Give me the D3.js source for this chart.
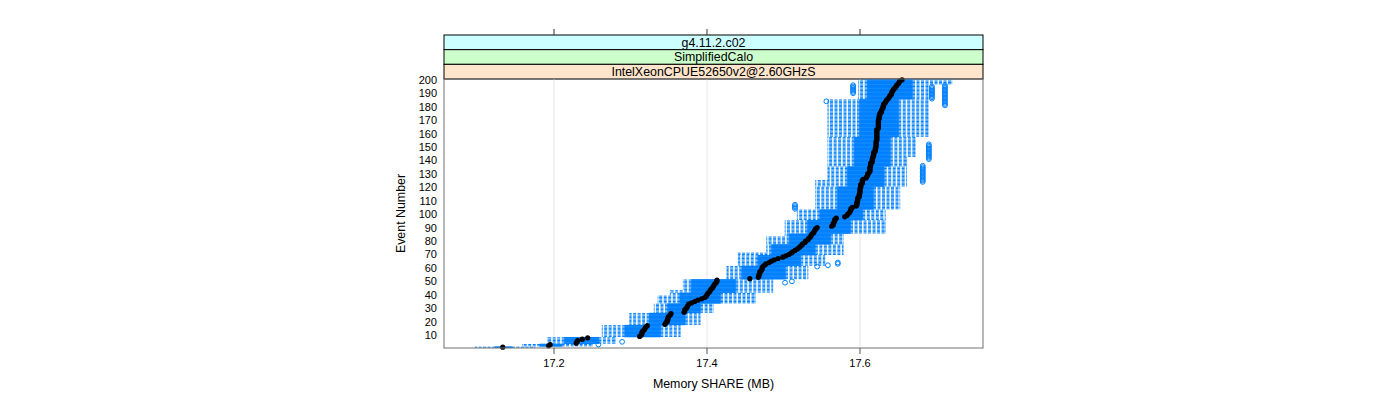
<!DOCTYPE html>
<html><head><meta charset="utf-8">
<script src="https://cdn.jsdelivr.net/npm/d3@7"></script>
<style>body{margin:0;background:#fff} svg{display:block} text{font-family:"Liberation Sans",Arial,Helvetica,sans-serif}</style>
</head><body><svg id="c" width="1400" height="400"></svg>
<script>
// ---- data ----
const stripLabels = ["g4.11.2.c02", "SimplifiedCalo", "IntelXeonCPUE52650v2@2.60GHzS"];
const xTicks = [17.2, 17.4, 17.6];
const yTicks = [10,20,30,40,50,60,70,80,90,100,110,120,130,140,150,160,170,180,190,200];
const medians = [
17.133,17.193,17.195,17.229,17.230,17.231,17.237,17.244,17.312,17.314,
17.315,17.315,17.316,17.318,17.319,17.320,17.322,17.345,17.346,17.348,
17.348,17.349,17.349,17.350,17.352,17.353,17.370,17.371,17.371,17.373,
17.374,17.375,17.376,17.380,17.384,17.388,17.393,17.397,17.399,17.400,
17.401,17.403,17.404,17.405,17.407,17.408,17.409,17.410,17.412,17.413,
17.413,17.456,17.467,17.468,17.468,17.469,17.469,17.471,17.472,17.472,
17.473,17.475,17.477,17.481,17.484,17.488,17.493,17.499,17.503,17.507,
17.510,17.512,17.515,17.518,17.520,17.522,17.524,17.525,17.528,17.529,
17.532,17.533,17.535,17.536,17.537,17.539,17.540,17.541,17.542,17.544,
17.563,17.565,17.565,17.566,17.567,17.567,17.569,17.580,17.583,17.584,
17.586,17.587,17.588,17.588,17.590,17.595,17.596,17.596,17.596,17.597,
17.597,17.597,17.599,17.599,17.599,17.600,17.600,17.600,17.600,17.601,
17.601,17.601,17.603,17.603,17.603,17.604,17.608,17.609,17.610,17.610,
17.612,17.613,17.613,17.613,17.613,17.614,17.614,17.614,17.616,17.616,
17.616,17.617,17.617,17.618,17.618,17.618,17.620,17.620,17.620,17.621,
17.621,17.621,17.621,17.621,17.622,17.622,17.622,17.622,17.622,17.622,
17.622,17.622,17.622,17.624,17.624,17.624,17.624,17.624,17.624,17.624,
17.625,17.625,17.625,17.626,17.626,17.628,17.628,17.629,17.630,17.630,
17.631,17.631,17.633,17.634,17.635,17.637,17.638,17.639,17.641,17.641,
17.642,17.643,17.644,17.646,17.647,17.648,17.650,17.651,17.652,17.655
];
// box/whisker statistics, constant over runs of events
const blockStart = [1,2,4,9,18,27,34,40,42,44,52,62,70,72,78,84,86,96,104,121,126,136,143,158,186,197];
const blockEnd   = [1,3,8,17,26,33,39,41,43,51,61,69,71,77,83,85,95,103,120,125,135,142,157,185,196,200];
const blockLo = [17.097,17.159,17.192,17.263,17.299,17.331,17.336,17.352,17.352,17.369,17.426,17.441,17.441,17.478,17.478,17.502,17.502,17.518,17.542,17.542,17.558,17.558,17.558,17.558,17.598,17.598];
const blockQ1 = [17.123,17.182,17.214,17.293,17.325,17.349,17.365,17.365,17.380,17.380,17.446,17.467,17.485,17.485,17.508,17.508,17.532,17.548,17.571,17.584,17.584,17.593,17.593,17.600,17.610,17.610];
const blockQ3 = [17.145,17.210,17.258,17.339,17.371,17.391,17.417,17.417,17.437,17.437,17.502,17.522,17.541,17.541,17.561,17.561,17.587,17.603,17.617,17.631,17.631,17.639,17.639,17.650,17.668,17.668];
const blockHi = [17.175,17.250,17.280,17.365,17.391,17.408,17.463,17.463,17.486,17.486,17.532,17.554,17.578,17.578,17.578,17.578,17.633,17.633,17.652,17.661,17.661,17.661,17.672,17.689,17.689,17.720];
const outlierEvent = [3,5,49,50,61,62,63,64,104,105,106,107,
  124,125,126,127,128,129,130,131,132,133,134,135,136,
  141,142,143,144,145,146,147,148,149,150,151,152,
  184,190,191,192,193,194,195,196,
  181,182,183,184,185,186,187,188,189,190,191,192,193,194,195,196,
  186,187,188,189,190,191,192,193,194,195];
const outlierValue = [17.258,17.289,17.502,17.511,17.544,17.558,17.571,17.571,17.515,17.515,17.515,17.515,
  17.682,17.682,17.682,17.682,17.682,17.682,17.682,17.682,17.682,17.682,17.682,17.682,17.682,
  17.690,17.690,17.690,17.690,17.690,17.690,17.690,17.690,17.690,17.690,17.690,17.690,
  17.556,17.591,17.591,17.591,17.591,17.591,17.591,17.591,
  17.711,17.711,17.711,17.711,17.711,17.711,17.711,17.711,17.711,17.711,17.711,17.711,17.711,17.711,17.711,17.711,
  17.694,17.694,17.694,17.694,17.694,17.694,17.694,17.694,17.694,17.694];

// ---- build rows ----
const rows = [];
blockStart.forEach((s, i) => {
  for (let e = s; e <= blockEnd[i]; e++) {
    rows.push({e, med: medians[e-1], lo: blockLo[i], q1: blockQ1[i], q3: blockQ3[i], hi: blockHi[i]});
  }
});
const outliers = outlierEvent.map((e, i) => ({e, v: outlierValue[i]}));

// ---- layout ----
const L = 444, R = 983, T = 79, B = 348;
const svg = d3.select("#c");
const x = d3.scaleLinear().domain([17.05621, 17.76078]).range([L, R]);
const y = d3.scaleLinear().domain([0.4, 200.6]).range([B, T]);
const unit = (B - T) / 200.2;
const boxH = unit * 0.5;
const blue = "#0080ff";

// strips
const stripTop = 35, stripH = (T - stripTop) / 3;
const stripFill = ["#ccffff", "#ccffcc", "#ffe5cc"];
stripLabels.forEach((lab, i) => {
  const y0 = stripTop + i * stripH;
  svg.append("rect").attr("x", L).attr("y", y0).attr("width", R - L).attr("height", stripH)
    .attr("fill", stripFill[i]).attr("stroke", "#000").attr("stroke-width", 1);
  svg.append("text").attr("x", (L + R) / 2).attr("y", y0 + stripH / 2).attr("dy", "0.36em")
    .attr("text-anchor", "middle").attr("font-size", "12.4px").attr("fill", "#000").text(lab);
});

// grid
svg.append("g").selectAll("line").data(xTicks).join("line")
  .attr("x1", d => x(d)).attr("x2", d => x(d)).attr("y1", T).attr("y2", B)
  .attr("stroke", "#e6e6e6").attr("stroke-width", 1);

const g = svg.append("g");
// whiskers
g.selectAll("line.wl").data(rows).join("line").attr("class", "wl")
  .attr("x1", d => x(d.q1)).attr("x2", d => x(d.lo)).attr("y1", d => y(d.e)).attr("y2", d => y(d.e))
  .attr("stroke", blue).attr("stroke-width", 1).attr("stroke-dasharray", "3,1.5");
g.selectAll("line.wh").data(rows).join("line").attr("class", "wh")
  .attr("x1", d => x(d.q3)).attr("x2", d => x(d.hi)).attr("y1", d => y(d.e)).attr("y2", d => y(d.e))
  .attr("stroke", blue).attr("stroke-width", 1).attr("stroke-dasharray", "3,1.5");
// staples
g.selectAll("line.sl").data(rows).join("line").attr("class", "sl")
  .attr("x1", d => x(d.lo)).attr("x2", d => x(d.lo)).attr("y1", d => y(d.e) - boxH/2).attr("y2", d => y(d.e) + boxH/2)
  .attr("stroke", blue).attr("stroke-width", 1);
g.selectAll("line.sh").data(rows).join("line").attr("class", "sh")
  .attr("x1", d => x(d.hi)).attr("x2", d => x(d.hi)).attr("y1", d => y(d.e) - boxH/2).attr("y2", d => y(d.e) + boxH/2)
  .attr("stroke", blue).attr("stroke-width", 1);
// boxes
g.selectAll("rect.box").data(rows).join("rect").attr("class", "box")
  .attr("x", d => x(d.q1)).attr("width", d => x(d.q3) - x(d.q1))
  .attr("y", d => y(d.e) - boxH/2).attr("height", boxH)
  .attr("fill", blue).attr("stroke", blue).attr("stroke-width", 1);
// outliers
g.selectAll("circle.out").data(outliers).join("circle").attr("class", "out")
  .attr("cx", d => x(d.v)).attr("cy", d => y(d.e)).attr("r", 2.4)
  .attr("fill", "none").attr("stroke", blue).attr("stroke-width", 1);
// medians
g.selectAll("circle.med").data(rows).join("circle").attr("class", "med")
  .attr("cx", d => x(d.med)).attr("cy", d => y(d.e)).attr("r", 2.6).attr("fill", "#000");

// panel border
svg.append("rect").attr("x", L).attr("y", T).attr("width", R - L).attr("height", B - T)
  .attr("fill", "none").attr("stroke", "#707070").attr("stroke-width", 1);

// axes ticks
svg.append("g").selectAll("line").data(xTicks).join("line")
  .attr("x1", d => x(d)).attr("x2", d => x(d)).attr("y1", B).attr("y2", B + 6)
  .attr("stroke", "#555");
svg.append("g").selectAll("line").data(xTicks).join("line")
  .attr("x1", d => x(d)).attr("x2", d => x(d)).attr("y1", stripTop - 6).attr("y2", stripTop)
  .attr("stroke", "#333");
svg.append("g").selectAll("text").data(xTicks).join("text")
  .attr("x", d => x(d)).attr("y", 367).attr("text-anchor", "middle").attr("font-size", "11px")
  .text(d => d3.format(".1f")(d));
svg.append("g").selectAll("text").data(yTicks).join("text")
  .attr("x", 437).attr("y", d => y(d)).attr("dy", "0.36em").attr("text-anchor", "end").attr("font-size", "11px")
  .text(d => d);

// titles
svg.append("text").attr("x", (L + R) / 2).attr("y", 388).attr("text-anchor", "middle")
  .attr("font-size", "12.4px").text("Memory SHARE (MB)");
svg.append("text").attr("transform", `translate(405,${(T + B) / 2}) rotate(-90)`)
  .attr("text-anchor", "middle").attr("font-size", "12.4px").text("Event Number");
</script></body></html>
